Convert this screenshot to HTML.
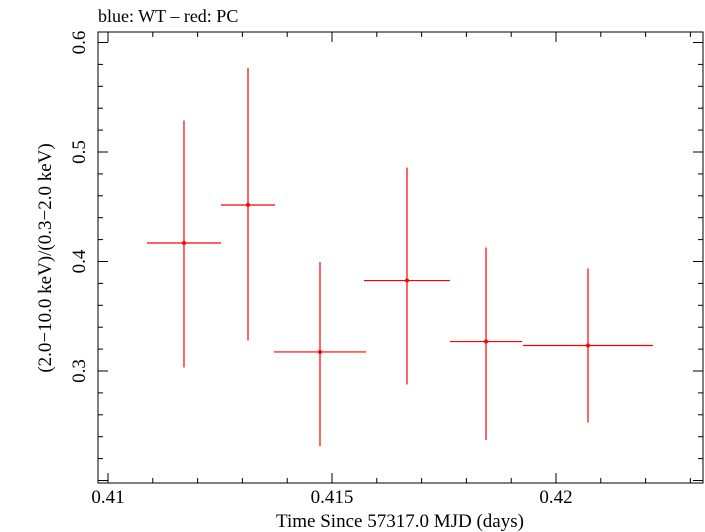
<!DOCTYPE html>
<html><head><meta charset="utf-8"><style>
body{margin:0;background:#fff}
svg{display:block;font-family:"Liberation Serif",serif}
</style></head><body>
<svg id="c" width="705" height="532">
<text x="98" y="22" font-size="18">blue: WT – red: PC</text>
<rect x="98" y="32" width="605" height="451" fill="none" stroke="#000" stroke-width="1"/>
<text x="400" y="527" text-anchor="middle" font-size="19">Time Since 57317.0 MJD (days)</text>
<text transform="translate(51,258) rotate(-90)" text-anchor="middle" font-size="19">(2.0−10.0 keV)/(0.3−2.0 keV)</text>
<g id="ticks"></g><g id="marks"></g>
</svg>
<script>
const times=[0.411696,0.413125,0.414732,0.416674,0.418438,0.420714];
const timeErr=[0.000826,0.000603,0.001027,0.00096,0.000804,0.001451];
const ratios=[0.4169,0.4516,0.3174,0.3826,0.3269,0.3233];
const ratioHi=[0.5288,0.5767,0.3996,0.4858,0.4128,0.3936];
const ratioLo=[0.3032,0.3279,0.2315,0.2877,0.2370,0.2530];
const xTicks=["0.41","0.415","0.42"];
const yTicks=["0.3","0.4","0.5","0.6"];
const L=98,R=703,T=32,B=483;
const X0=0.41-10/44800,X1=0.41+595/44800,Y0=0.6-440.5/1095,Y1=0.6+10.5/1095;
const sx=v=>L+(v-X0)/(X1-X0)*(R-L);
const sy=v=>B-(v-Y0)/(Y1-Y0)*(B-T);
const NS="http://www.w3.org/2000/svg";
function mk(tag,a,parent){const e=document.createElementNS(NS,tag);for(const k in a)e.setAttribute(k,a[k]);parent.appendChild(e);return e;}
const tg=document.getElementById('ticks'),mg=document.getElementById('marks');
for(let i=410;i<=423;i++){const v=i/1000,x=sx(v),maj=i%5==0,len=maj?10:5;
 const t1=mk('line',{x1:x,x2:x,y1:B,y2:B-len,stroke:'#000'},tg);
 
 
 const t2=mk('line',{x1:x,x2:x,y1:T,y2:T+len,stroke:'#000'},tg);
 
 }
xTicks.forEach(s=>{const t=mk('text',{x:sx(parseFloat(s)),y:503,'text-anchor':'middle','font-size':19},tg);t.textContent=s;
 
 });
for(let i=10;i<=30;i++){const v=i/50,y=sy(v);if(y<T||y>B)continue;const maj=i%5==0,len=maj?10:5;
 const t1=mk('line',{x1:L,x2:L+len,y1:y,y2:y,stroke:'#000'},tg);
 
 
 const t2=mk('line',{x1:R,x2:R-len,y1:y,y2:y,stroke:'#000'},tg);
 
 }
yTicks.forEach(s=>{const y=sy(parseFloat(s));const t=mk('text',{transform:`translate(85,${y}) rotate(-90)`,'text-anchor':'middle','font-size':19},tg);t.textContent=s;
 
 });
times.forEach((t,i)=>{const g=mk('g',{},mg);
 
 
 mk('line',{x1:sx(t-timeErr[i]),x2:sx(t+timeErr[i]),y1:sy(ratios[i]),y2:sy(ratios[i]),stroke:'#f00','stroke-width':1.2},g);
 mk('line',{x1:sx(t),x2:sx(t),y1:sy(ratioHi[i]),y2:sy(ratioLo[i]),stroke:'#f00','stroke-width':1.2},g);
 mk('circle',{cx:sx(t),cy:sy(ratios[i]),r:2,fill:'#f00'},g);});
</script>
</body></html>
